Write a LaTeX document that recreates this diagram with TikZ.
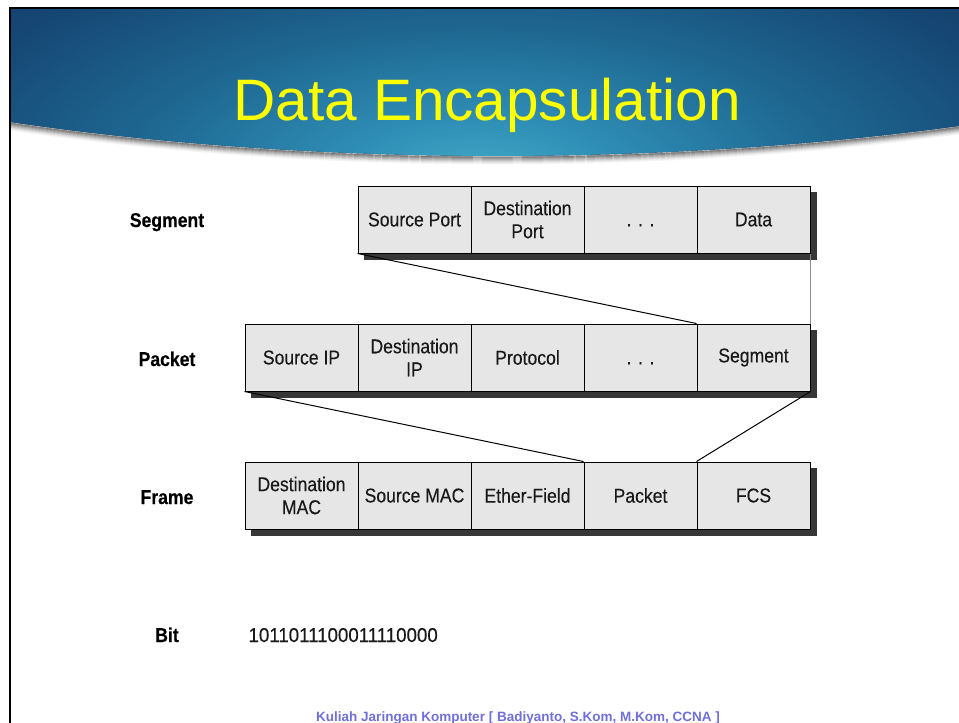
\documentclass[tikz,border=0pt]{standalone}
\usepackage{fontspec}
\setmainfont{Liberation Sans}
\newfontfamily\narrowfont[FakeStretch=0.88,FakeBold=0.3]{Liberation Sans}
\newfontfamily\bitfont[FakeStretch=0.935,FakeBold=0.3]{Liberation Sans}
\usetikzlibrary{calc}
\definecolor{cellgray}{RGB}{230,230,230}
\definecolor{shadowgray}{RGB}{55,55,55}
\definecolor{titleyellow}{RGB}{255,255,0}
\definecolor{footblue}{RGB}{112,112,216}
\definecolor{hdrA}{RGB}{64,170,200}
\definecolor{hdrB}{RGB}{46,140,180}
\definecolor{hdrC}{RGB}{30,104,146}
\definecolor{hdrD}{RGB}{22,70,115}
\definecolor{hdrE}{RGB}{20,55,100}
\definecolor{hdrF}{RGB}{8,28,55}
\pgfdeclareradialshading{hdrshade}{\pgfpoint{0bp}{0bp}}{color(0bp)=(hdrA); color(5bp)=(hdrB); color(12bp)=(hdrC); color(20bp)=(hdrD); color(28bp)=(hdrE); color(40bp)=(hdrF); color(50bp)=(hdrF)}
\pgfdeclarelayer{bg}
\pgfsetlayers{bg,main}
\begin{document}
\begin{tikzpicture}[x=1pt,y=-1pt,
  cell/.style={draw=black, line width=1pt, fill=cellgray, minimum width=113pt, minimum height=67pt,
    inner sep=0pt, align=center, text=black!90, font=\narrowfont\fontsize{20}{23}\selectfont},
  rowlab/.style={anchor=base, font=\narrowfont\bfseries\fontsize{20}{23}\selectfont},
  conn/.style={line width=1pt, black},
  rowshadow/.style={fill=shadowgray}]
\useasboundingbox (0,0) rectangle (959,723);
% title
\node[anchor=base, text=titleyellow, font=\fontsize{58.5}{60}\selectfont] (title) at (487,120) {Data Encapsulation};
% segment row
\node[cell] (s1) at (414.5,219.5) {Source Port};
\node[cell] (s2) at (527.5,219.5) {Destination\\Port};
\node[cell] (s3) at (640.5,219.5) {\vphantom{Data}.\,\,.\,\,.};
\node[cell] (s4) at (753.5,219.5) {Data};
% packet row
\node[cell] (p1) at (301.5,357.5) {Source IP};
\node[cell] (p2) at (414.5,357.5) {Destination\\IP};
\node[cell] (p3) at (527.5,357.5) {Protocol};
\node[cell] (p4) at (640.5,357.5) {\vphantom{Data}.\,\,.\,\,.};
\node[cell] (p5) at (753.5,357.5) {Segment};
% frame row
\node[cell] (f1) at (301.5,495.5) {Destination\\MAC};
\node[cell] (f2) at (414.5,495.5) {Source MAC};
\node[cell] (f3) at (527.5,495.5) {Ether-Field};
\node[cell] (f4) at (640.5,495.5) {Packet};
\node[cell] (f5) at (753.5,495.5) {FCS};
% row labels
\node[rowlab] (lseg) at (167,227) {Segment};
\node[rowlab] (lpkt) at (167,366) {Packet};
\node[rowlab] (lfrm) at (167,504) {Frame};
\node[rowlab] (lbit) at (167,642) {Bit};
\node[anchor=base west, font=\bitfont\fontsize{20}{23}\selectfont, text=black!90] (bits) at (245,642) {1011011100011110000};
% connectors
\draw[conn] (s1.south west) -- (p5.north west);
\draw[line width=1pt, black!45] (s4.south east) -- (p5.north east);
\draw[conn] (p1.south west) -- (f4.north west);
\draw[conn] (p5.south east) -- (f5.north west);
% footer
\node[anchor=base, text=footblue, font=\bfseries\fontsize{13.5}{15}\selectfont] (foot) at (518,721) {Kuliah Jaringan Komputer [ Badiyanto, S.Kom, M.Kom, CCNA ]};
\begin{pgfonlayer}{bg}
  \fill[white] (0,0) rectangle (959,723);
  \begin{scope}
    \clip (10,9) -- (959,9) -- (959,126) .. controls (650,168) and (300,165) .. (10,122) -- cycle;
    \fill[hdrF] (0,0) rectangle (959,180);
    \begin{scope}[shift={(480,175)}, xscale=2.4]
      \shade[shading=hdrshade] (-300,-300) rectangle (300,300);
    \end{scope}
  \end{scope}
  \foreach \d/\o in {1/0.45,2/0.38,3/0.3,4/0.23,5/0.17,6/0.11,7/0.06,8/0.03}
    \draw[line width=1.2pt, black, opacity=\o] (959,126+\d) .. controls (650,168+\d) and (300,165+\d) .. (10,122+\d);
  \draw[line width=2.5pt, black] (10,723) -- (10,8) -- (959,8);
  \fill[rowshadow] ($(s1.north west)+(6,6)$) rectangle ($(s4.south east)+(6,6)$);
  \fill[rowshadow] ($(p1.north west)+(6,6)$) rectangle ($(p5.south east)+(6,6)$);
  \fill[rowshadow] ($(f1.north west)+(6,6)$) rectangle ($(f5.south east)+(6,6)$);
\end{pgfonlayer}
\end{tikzpicture}
\end{document}
